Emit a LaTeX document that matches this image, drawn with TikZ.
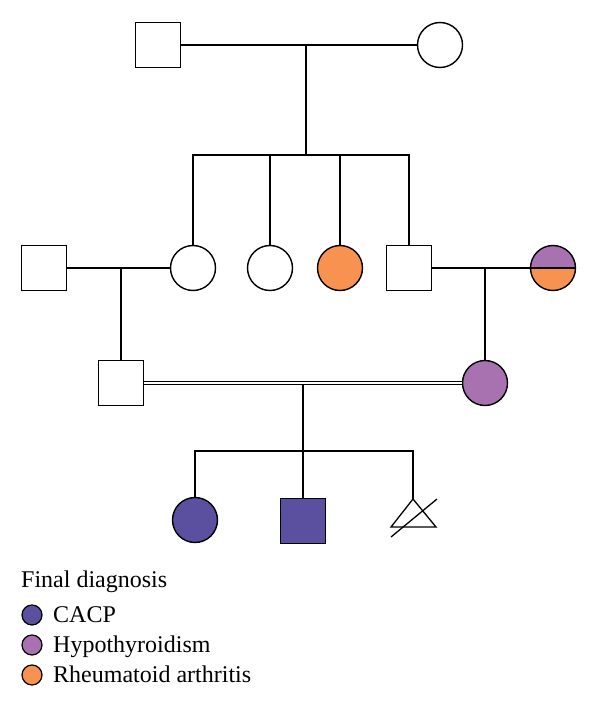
\documentclass[tikz,border=0pt]{standalone}
\usepackage{fontspec}
\setmainfont{Liberation Serif}
\usetikzlibrary{positioning}
\definecolor{cacp}{HTML}{5B4FA0}
\definecolor{hypo}{HTML}{A872B0}
\definecolor{rheum}{HTML}{F79250}

\begin{document}
\begin{tikzpicture}[x=1pt, y=-1pt,
    male/.style={draw, line width=1.4pt, minimum size=45pt, inner sep=0pt, fill=white},
    female/.style={circle, draw, line width=1.4pt, minimum size=45pt, inner sep=0pt, fill=white},
    halfdx/.style={female, path picture={
        \fill[hypo] (path picture bounding box.north west) rectangle (path picture bounding box.east);
        \fill[rheum] (path picture bounding box.west) rectangle (path picture bounding box.south east);
        \draw[line width=1.4pt] (path picture bounding box.west) -- (path picture bounding box.east);}},
    link/.style={line width=1.3pt},
    marry/.style={double, double distance=1.6pt, line width=1.1pt},
    keydot/.style={circle, draw, line width=1.2pt, minimum size=20pt, inner sep=0pt},
    keytext/.style={anchor=base west, inner sep=0pt, font=\fontsize{24}{28}\selectfont},
]
\useasboundingbox (0,0) rectangle (600,706);

% grandparents
\node[male] (gpa) at (158,45) {};
\node[female] (gma) at (440,45) {};
\coordinate (gmid) at (306,45);
\coordinate (sib1) at (306,155);
\draw[link] (gpa) -- (gma);
\draw[link] (gmid) -- (sib1);

% second generation
\node[female] (dau1) at (193,268) {};
\node[female] (dau2) at (270,268) {};
\node[female, fill=rheum] (dau3) at (340,268) {};
\node[male] (son1) at (409,268) {};
\draw[link] (dau1) |- (sib1) -| (son1);
\draw[link] (dau2) -- (dau2 |- sib1);
\draw[link] (dau3) -- (dau3 |- sib1);

\node[male] (hus1) at (44,268) {};
\node[halfdx] (wif1) at (553,268) {};
\coordinate (mid1) at (121,268);
\coordinate (mid2) at (485,268);
\draw[link] (hus1) -- (dau1);
\draw[link] (son1) -- (wif1);

% third generation
\node[male] (fath) at (121,383) {};
\node[female, fill=hypo] (moth) at (485,383) {};
\draw[link] (mid1) -- (fath);
\draw[link] (mid2) -- (moth);
\draw[marry] (fath) -- (moth);
\coordinate (mid3) at (303,384);
\coordinate (sib2) at (303,451);

% children
\node[female, fill=cacp] (kid1) at (195,520) {};
\node[male, fill=cacp] (kid2) at (303,521) {};
\coordinate (kid3) at (413,499);
\draw[link] (mid3) -- (kid2);
\draw[link] (kid1) |- (sib2) -| (kid3);
\draw[link, line join=miter] (kid3) -- (436,527) -- (391,527) -- cycle;
\draw[link] (391,537) -- (437,499);

% legend
\node[keytext] (ktitle) at (21,587) {Final diagnosis};
\node[keydot, fill=cacp] (k1) at (32,615) {};
\node[keydot, fill=hypo] (k2) at (32,645) {};
\node[keydot, fill=rheum] (k3) at (32,675) {};
\node[keytext] (t1) at (53,622) {CACP};
\node[keytext] (t2) at (53,652) {Hypothyroidism};
\node[keytext] (t3) at (53,682) {Rheumatoid arthritis};
\end{tikzpicture}
\end{document}
